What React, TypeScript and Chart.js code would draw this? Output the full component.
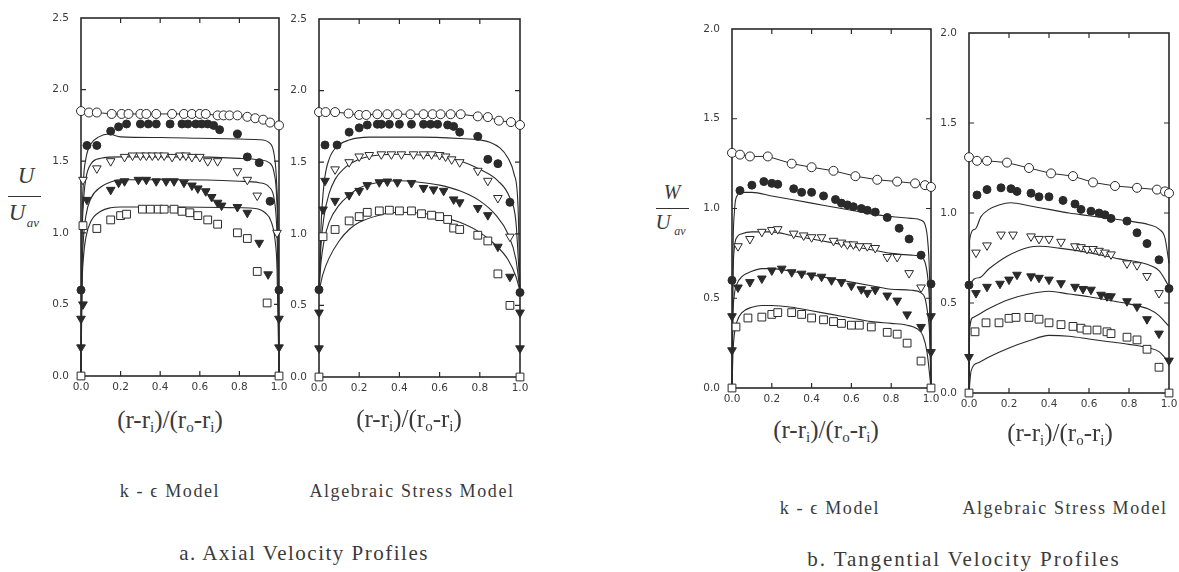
import React, { useEffect, useRef } from "react";
import { Chart, registerables } from "chart.js";

Chart.register(...registerables);

type Pt = [number, number];

// ---------- tick labels ----------
const X_TICKS = [0, 0.2, 0.4, 0.6, 0.8, 1.0];
const AXIAL_Y_TICKS = [0, 0.5, 1.0, 1.5, 2.0, 2.5];
const TANG_Y_TICKS = [0, 0.5, 1.0, 1.5, 2.0];

// ---------- a. Axial velocity, k-epsilon model ----------
const axKeOpenCircles: Pt[] = [[0, 1.85], [0.04, 1.84], [0.08, 1.84], [0.155, 1.83], [0.205, 1.83], [0.24, 1.83], [0.3, 1.83], [0.33, 1.83], [0.38, 1.83], [0.46, 1.83], [0.52, 1.83], [0.56, 1.83], [0.6, 1.83], [0.63, 1.83], [0.69, 1.82], [0.72, 1.82], [0.75, 1.82], [0.79, 1.82], [0.84, 1.81], [0.88, 1.8], [0.92, 1.79], [0.955, 1.77], [1.0, 1.75]];
const axKeFilledCircles: Pt[] = [[0, 0.6], [0.03, 1.61], [0.08, 1.61], [0.15, 1.71], [0.19, 1.74], [0.23, 1.76], [0.3, 1.76], [0.34, 1.76], [0.38, 1.76], [0.45, 1.76], [0.51, 1.76], [0.54, 1.76], [0.58, 1.76], [0.61, 1.76], [0.64, 1.76], [0.67, 1.75], [0.7, 1.72], [0.79, 1.69], [0.84, 1.53], [0.9, 1.49], [0.955, 1.22], [1.0, 0.6]];
const axKeOpenTriangles: Pt[] = [[0.01, 1.37], [0.08, 1.45], [0.15, 1.5], [0.22, 1.53], [0.26, 1.54], [0.3, 1.54], [0.33, 1.54], [0.36, 1.54], [0.39, 1.54], [0.42, 1.54], [0.46, 1.53], [0.5, 1.54], [0.53, 1.54], [0.56, 1.53], [0.6, 1.53], [0.64, 1.5], [0.69, 1.5], [0.79, 1.43], [0.84, 1.37], [0.89, 1.26], [0.99, 1.0]];
const axKeFilledTriangles: Pt[] = [[0, 0.2], [0, 0.4], [0.01, 0.5], [0.03, 1.23], [0.15, 1.3], [0.19, 1.35], [0.22, 1.36], [0.29, 1.37], [0.33, 1.37], [0.38, 1.36], [0.43, 1.36], [0.47, 1.36], [0.52, 1.35], [0.56, 1.33], [0.59, 1.31], [0.63, 1.29], [0.66, 1.25], [0.69, 1.21], [0.71, 1.19], [0.79, 1.18], [0.84, 1.14], [0.9, 0.93], [0.945, 0.71], [1.0, 0.4], [1.0, 0.2]];
const axKeOpenSquares: Pt[] = [[0, 0], [0.01, 1.05], [0.08, 1.03], [0.15, 1.09], [0.2, 1.12], [0.23, 1.13], [0.31, 1.165], [0.35, 1.165], [0.39, 1.165], [0.42, 1.165], [0.47, 1.165], [0.51, 1.15], [0.55, 1.14], [0.59, 1.12], [0.64, 1.09], [0.69, 1.06], [0.79, 1.0], [0.84, 0.96], [0.89, 0.73], [0.94, 0.51], [1.0, 0]];
const axKeLine2: Pt[] = [[0, 0], [0.005, 1.0], [0.012, 1.35], [0.025, 1.52], [0.05, 1.62], [0.09, 1.67], [0.14, 1.69], [0.2, 1.67], [0.4, 1.665], [0.6, 1.66], [0.8, 1.655], [0.9, 1.65], [0.95, 1.63], [0.975, 1.55], [0.988, 1.35], [0.995, 1.0], [1.0, 0]];
const axKeLine3: Pt[] = [[0, 0], [0.005, 0.9], [0.012, 1.2], [0.025, 1.38], [0.05, 1.48], [0.1, 1.52], [0.2, 1.53], [0.5, 1.53], [0.8, 1.52], [0.9, 1.51], [0.95, 1.49], [0.975, 1.42], [0.988, 1.25], [0.995, 0.9], [1.0, 0]];
const axKeLine4: Pt[] = [[0, 0], [0.005, 0.7], [0.012, 0.95], [0.025, 1.12], [0.05, 1.24], [0.1, 1.32], [0.15, 1.355], [0.2, 1.37], [0.5, 1.37], [0.8, 1.36], [0.9, 1.35], [0.95, 1.32], [0.975, 1.24], [0.988, 1.05], [0.995, 0.7], [1.0, 0]];
const axKeLine5: Pt[] = [[0, 0], [0.005, 0.6], [0.012, 0.82], [0.025, 0.97], [0.05, 1.08], [0.1, 1.15], [0.15, 1.175], [0.2, 1.18], [0.5, 1.18], [0.8, 1.175], [0.88, 1.17], [0.93, 1.14], [0.96, 1.08], [0.98, 0.95], [0.99, 0.75], [1.0, 0]];

// ---------- a. Axial velocity, algebraic stress model ----------
const axAsmOpenCircles: Pt[] = [[0, 1.85], [0.033, 1.85], [0.08, 1.85], [0.147, 1.84], [0.2, 1.83], [0.235, 1.83], [0.29, 1.835], [0.34, 1.835], [0.39, 1.835], [0.455, 1.835], [0.52, 1.835], [0.565, 1.835], [0.605, 1.835], [0.655, 1.835], [0.705, 1.835], [0.79, 1.82], [0.84, 1.815], [0.895, 1.79], [0.955, 1.78], [1.0, 1.76]];
const axAsmFilledCircles: Pt[] = [[0, 0.61], [0.03, 1.62], [0.09, 1.62], [0.15, 1.71], [0.2, 1.74], [0.24, 1.76], [0.29, 1.765], [0.31, 1.765], [0.35, 1.765], [0.4, 1.765], [0.46, 1.765], [0.52, 1.765], [0.555, 1.765], [0.59, 1.765], [0.64, 1.76], [0.67, 1.75], [0.7, 1.71], [0.79, 1.68], [0.84, 1.52], [0.89, 1.49], [0.95, 1.22], [1.0, 0.59]];
const axAsmOpenTriangles: Pt[] = [[0.08, 1.45], [0.15, 1.5], [0.2, 1.54], [0.25, 1.55], [0.31, 1.555], [0.36, 1.555], [0.41, 1.555], [0.47, 1.555], [0.52, 1.555], [0.56, 1.555], [0.6, 1.55], [0.63, 1.54], [0.66, 1.52], [0.7, 1.5], [0.79, 1.44], [0.84, 1.37], [0.89, 1.25], [0.95, 0.98]];
const axAsmFilledTriangles: Pt[] = [[0, 0.2], [0, 0.45], [0.02, 1.17], [0.03, 1.37], [0.08, 1.23], [0.15, 1.27], [0.2, 1.3], [0.24, 1.34], [0.3, 1.36], [0.34, 1.365], [0.39, 1.36], [0.46, 1.355], [0.52, 1.32], [0.57, 1.31], [0.62, 1.3], [0.67, 1.24], [0.7, 1.22], [0.79, 1.18], [0.84, 1.13], [0.89, 0.91], [0.95, 0.7], [1.0, 0.45], [1.0, 0.2]];
const axAsmOpenSquares: Pt[] = [[0, 0], [0.02, 0.98], [0.08, 1.03], [0.15, 1.09], [0.2, 1.12], [0.24, 1.15], [0.3, 1.16], [0.35, 1.165], [0.4, 1.16], [0.46, 1.16], [0.51, 1.14], [0.56, 1.13], [0.6, 1.12], [0.64, 1.1], [0.67, 1.04], [0.7, 1.03], [0.79, 0.99], [0.84, 0.95], [0.89, 0.72], [0.95, 0.5], [1.0, 0]];
const axAsmLine2: Pt[] = [[0, 0.6], [0.01, 1.05], [0.025, 1.35], [0.05, 1.52], [0.1, 1.62], [0.15, 1.655], [0.25, 1.675], [0.5, 1.675], [0.7, 1.665], [0.8, 1.655], [0.85, 1.64], [0.9, 1.6], [0.94, 1.53], [0.97, 1.42], [0.99, 1.2], [1.0, 0.6]];
const axAsmLine3: Pt[] = [[0, 0.6], [0.01, 0.92], [0.025, 1.12], [0.05, 1.28], [0.08, 1.38], [0.12, 1.45], [0.2, 1.52], [0.3, 1.55], [0.4, 1.555], [0.5, 1.55], [0.6, 1.54], [0.7, 1.51], [0.8, 1.45], [0.89, 1.37], [0.95, 1.25], [0.98, 1.08], [1.0, 0.6]];
const axAsmLine4: Pt[] = [[0, 0.6], [0.01, 0.8], [0.025, 0.95], [0.05, 1.08], [0.1, 1.2], [0.15, 1.27], [0.2, 1.32], [0.3, 1.36], [0.4, 1.37], [0.5, 1.36], [0.6, 1.34], [0.7, 1.3], [0.8, 1.23], [0.88, 1.13], [0.94, 1.0], [0.98, 0.82], [1.0, 0.6]];
const axAsmLine5: Pt[] = [[0, 0.6], [0.02, 0.72], [0.05, 0.83], [0.1, 0.95], [0.15, 1.03], [0.2, 1.08], [0.3, 1.13], [0.4, 1.15], [0.5, 1.145], [0.6, 1.12], [0.7, 1.08], [0.8, 1.01], [0.88, 0.92], [0.94, 0.82], [0.98, 0.7], [1.0, 0.6]];

// ---------- b. Tangential velocity, k-epsilon model ----------
const tgKeOpenCircles: Pt[] = [[0, 1.31], [0.04, 1.3], [0.09, 1.29], [0.18, 1.29], [0.3, 1.25], [0.4, 1.23], [0.51, 1.21], [0.62, 1.18], [0.73, 1.16], [0.83, 1.15], [0.92, 1.14], [0.97, 1.13], [1.0, 1.12]];
const tgKeFilledCircles: Pt[] = [[0, 0.6], [0.04, 1.1], [0.1, 1.13], [0.16, 1.15], [0.2, 1.14], [0.23, 1.135], [0.31, 1.11], [0.35, 1.09], [0.4, 1.09], [0.46, 1.07], [0.52, 1.05], [0.55, 1.03], [0.58, 1.02], [0.61, 1.01], [0.65, 1.0], [0.68, 0.99], [0.72, 0.98], [0.78, 0.95], [0.84, 0.89], [0.89, 0.83], [0.95, 0.74], [1.0, 0.58]];
const tgKeOpenTriangles: Pt[] = [[0.03, 0.79], [0.09, 0.83], [0.15, 0.87], [0.2, 0.88], [0.23, 0.885], [0.31, 0.86], [0.36, 0.85], [0.4, 0.84], [0.45, 0.84], [0.51, 0.82], [0.55, 0.81], [0.58, 0.8], [0.61, 0.8], [0.64, 0.79], [0.68, 0.79], [0.72, 0.78], [0.78, 0.73], [0.83, 0.73], [0.89, 0.64], [0.95, 0.56]];
const tgKeFilledTriangles: Pt[] = [[0, 0.21], [0, 0.4], [0.03, 0.56], [0.09, 0.59], [0.15, 0.61], [0.2, 0.655], [0.25, 0.665], [0.3, 0.645], [0.35, 0.637], [0.4, 0.627], [0.45, 0.62], [0.5, 0.6], [0.55, 0.59], [0.6, 0.57], [0.65, 0.55], [0.68, 0.53], [0.72, 0.547], [0.78, 0.515], [0.83, 0.487], [0.88, 0.41], [0.95, 0.34], [1.0, 0.4], [1.0, 0.2]];
const tgKeOpenSquares: Pt[] = [[0, 0], [0.02, 0.34], [0.08, 0.39], [0.15, 0.395], [0.2, 0.41], [0.23, 0.42], [0.3, 0.42], [0.35, 0.41], [0.4, 0.39], [0.46, 0.38], [0.51, 0.37], [0.55, 0.36], [0.6, 0.35], [0.64, 0.35], [0.7, 0.34], [0.78, 0.31], [0.83, 0.3], [0.88, 0.25], [0.95, 0.15], [1.0, 0]];
const tgKeLine2: Pt[] = [[0, 0], [0.005, 0.75], [0.012, 0.98], [0.025, 1.07], [0.05, 1.09], [0.1, 1.09], [0.2, 1.07], [0.3, 1.05], [0.4, 1.03], [0.5, 1.01], [0.6, 0.99], [0.7, 0.97], [0.8, 0.955], [0.9, 0.945], [0.95, 0.935], [0.97, 0.91], [0.985, 0.8], [0.993, 0.6], [1.0, 0]];
const tgKeLine3: Pt[] = [[0, 0], [0.005, 0.6], [0.012, 0.78], [0.025, 0.84], [0.05, 0.86], [0.1, 0.87], [0.2, 0.87], [0.3, 0.85], [0.4, 0.83], [0.5, 0.81], [0.6, 0.79], [0.7, 0.77], [0.8, 0.75], [0.9, 0.74], [0.95, 0.73], [0.97, 0.7], [0.985, 0.6], [0.993, 0.45], [1.0, 0]];
const tgKeLine4: Pt[] = [[0, 0], [0.005, 0.4], [0.012, 0.52], [0.025, 0.58], [0.05, 0.62], [0.1, 0.65], [0.15, 0.665], [0.2, 0.665], [0.3, 0.65], [0.4, 0.63], [0.5, 0.61], [0.6, 0.59], [0.7, 0.57], [0.8, 0.55], [0.9, 0.545], [0.95, 0.53], [0.97, 0.5], [0.985, 0.4], [0.993, 0.3], [1.0, 0]];
const tgKeLine5: Pt[] = [[0, 0], [0.005, 0.2], [0.012, 0.3], [0.025, 0.37], [0.05, 0.42], [0.1, 0.45], [0.15, 0.46], [0.2, 0.46], [0.3, 0.45], [0.4, 0.43], [0.5, 0.41], [0.6, 0.39], [0.7, 0.37], [0.8, 0.36], [0.88, 0.35], [0.93, 0.33], [0.96, 0.29], [0.98, 0.2], [1.0, 0]];

// ---------- b. Tangential velocity, algebraic stress model ----------
const tgAsmOpenCircles: Pt[] = [[0, 1.31], [0.04, 1.29], [0.09, 1.29], [0.19, 1.28], [0.3, 1.25], [0.41, 1.22], [0.52, 1.205], [0.62, 1.17], [0.73, 1.15], [0.84, 1.14], [0.94, 1.13], [0.98, 1.12], [1.0, 1.11]];
const tgAsmFilledCircles: Pt[] = [[0, 0.6], [0.04, 1.1], [0.09, 1.13], [0.16, 1.14], [0.21, 1.135], [0.24, 1.12], [0.31, 1.11], [0.35, 1.09], [0.4, 1.09], [0.47, 1.07], [0.53, 1.05], [0.56, 1.02], [0.61, 1.01], [0.65, 1.0], [0.68, 0.99], [0.71, 0.97], [0.79, 0.955], [0.84, 0.89], [0.89, 0.83], [0.95, 0.74], [1.0, 0.58]];
const tgAsmOpenTriangles: Pt[] = [[0.035, 0.78], [0.09, 0.82], [0.16, 0.88], [0.22, 0.88], [0.31, 0.87], [0.35, 0.856], [0.4, 0.856], [0.46, 0.84], [0.53, 0.815], [0.56, 0.81], [0.59, 0.8], [0.62, 0.8], [0.65, 0.79], [0.68, 0.78], [0.71, 0.77], [0.79, 0.72], [0.84, 0.71], [0.89, 0.65], [0.95, 0.555]];
const tgAsmFilledTriangles: Pt[] = [[0, 0.2], [0.035, 0.555], [0.09, 0.59], [0.155, 0.607], [0.2, 0.63], [0.24, 0.657], [0.31, 0.648], [0.35, 0.64], [0.4, 0.63], [0.46, 0.61], [0.53, 0.59], [0.57, 0.578], [0.61, 0.574], [0.66, 0.546], [0.69, 0.537], [0.71, 0.537], [0.79, 0.51], [0.84, 0.48], [0.89, 0.41], [0.95, 0.33], [1.0, 0.18]];
const tgAsmOpenSquares: Pt[] = [[0, 0], [0.03, 0.34], [0.085, 0.39], [0.15, 0.39], [0.2, 0.415], [0.235, 0.42], [0.3, 0.42], [0.35, 0.41], [0.4, 0.39], [0.46, 0.38], [0.52, 0.37], [0.56, 0.36], [0.59, 0.35], [0.64, 0.35], [0.69, 0.34], [0.71, 0.33], [0.79, 0.31], [0.84, 0.295], [0.89, 0.243], [0.95, 0.143], [1.0, 0]];
const tgAsmLine2: Pt[] = [[0, 0], [0.003, 0.85], [0.03, 0.91], [0.06, 0.98], [0.1, 1.02], [0.15, 1.045], [0.21, 1.057], [0.3, 1.04], [0.4, 1.02], [0.5, 1.0], [0.6, 0.985], [0.7, 0.97], [0.8, 0.955], [0.9, 0.935], [0.95, 0.91], [0.98, 0.86], [1.0, 0.72]];
const tgAsmLine3: Pt[] = [[0, 0], [0.003, 0.59], [0.05, 0.64], [0.1, 0.69], [0.19, 0.76], [0.3, 0.81], [0.35, 0.815], [0.45, 0.805], [0.6, 0.78], [0.75, 0.745], [0.89, 0.715], [0.95, 0.68], [0.98, 0.63], [1.0, 0.59]];
const tgAsmLine4: Pt[] = [[0, 0], [0.003, 0.35], [0.02, 0.42], [0.1, 0.47], [0.2, 0.52], [0.3, 0.55], [0.4, 0.565], [0.5, 0.55], [0.6, 0.535], [0.7, 0.515], [0.8, 0.495], [0.9, 0.465], [0.95, 0.43], [1.0, 0.37]];
const tgAsmLine5: Pt[] = [[0, 0], [0.01, 0.12], [0.05, 0.17], [0.1, 0.2], [0.2, 0.25], [0.3, 0.29], [0.4, 0.32], [0.5, 0.315], [0.6, 0.3], [0.7, 0.285], [0.8, 0.27], [0.9, 0.25], [0.95, 0.23], [1.0, 0.17]];

// ---------- styling / layout (kept apart from data) ----------
const INK = "#2a2a2a";
const TEXT = "#3a3a3a";
const PAD = { left: 0, right: 10, top: 10, bottom: 4 };
const Y_AXIS_W = 40;
const X_AXIS_H = 22;

interface PanelSpec {
  key: string;
  area: { left: number; top: number; right: number; bottom: number };
  yMax: number;
  yTicks: number[];
  circles: Pt[];
  filled: Pt[];
  openTri: Pt[];
  filledTri: Pt[];
  squares: Pt[];
  lines: Pt[][];
}

const PANELS: PanelSpec[] = [
  { key: "axKe", area: { left: 81, top: 18, right: 279, bottom: 376 }, yMax: 2.5, yTicks: AXIAL_Y_TICKS,
    circles: axKeOpenCircles, filled: axKeFilledCircles, openTri: axKeOpenTriangles, filledTri: axKeFilledTriangles, squares: axKeOpenSquares,
    lines: [axKeLine2, axKeLine3, axKeLine4, axKeLine5] },
  { key: "axAsm", area: { left: 319, top: 19, right: 520, bottom: 377 }, yMax: 2.5, yTicks: AXIAL_Y_TICKS,
    circles: axAsmOpenCircles, filled: axAsmFilledCircles, openTri: axAsmOpenTriangles, filledTri: axAsmFilledTriangles, squares: axAsmOpenSquares,
    lines: [axAsmLine2, axAsmLine3, axAsmLine4, axAsmLine5] },
  { key: "tgKe", area: { left: 732, top: 29, right: 931, bottom: 388 }, yMax: 2.0, yTicks: TANG_Y_TICKS,
    circles: tgKeOpenCircles, filled: tgKeFilledCircles, openTri: tgKeOpenTriangles, filledTri: tgKeFilledTriangles, squares: tgKeOpenSquares,
    lines: [tgKeLine2, tgKeLine3, tgKeLine4, tgKeLine5] },
  { key: "tgAsm", area: { left: 969, top: 33, right: 1169, bottom: 393 }, yMax: 2.0, yTicks: TANG_Y_TICKS,
    circles: tgAsmOpenCircles, filled: tgAsmFilledCircles, openTri: tgAsmOpenTriangles, filledTri: tgAsmFilledTriangles, squares: tgAsmOpenSquares,
    lines: [tgAsmLine2, tgAsmLine3, tgAsmLine4, tgAsmLine5] },
];

const toXY = (pts: Pt[]) => pts.map(([x, y]) => ({ x, y }));

const framePlugin = {
  id: "frame",
  beforeDatasetsDraw(chart: any) {
    const { ctx, chartArea: a, scales } = chart;
    ctx.save();
    ctx.strokeStyle = INK;
    ctx.lineWidth = 1.6;
    ctx.strokeRect(a.left, a.top, a.right - a.left, a.bottom - a.top);
    ctx.lineWidth = 1.2;
    const L = 5;
    ctx.beginPath();
    for (const t of scales.x.ticks) {
      const px = scales.x.getPixelForValue(t.value);
      if (px - a.left < 2 || a.right - px < 2) continue;
      ctx.moveTo(px, a.bottom);
      ctx.lineTo(px, a.bottom - L);
      ctx.moveTo(px, a.top);
      ctx.lineTo(px, a.top + L);
    }
    for (const t of scales.y.ticks) {
      const py = scales.y.getPixelForValue(t.value);
      if (py - a.top < 2 || a.bottom - py < 2) continue;
      ctx.moveTo(a.left, py);
      ctx.lineTo(a.left + L, py);
      ctx.moveTo(a.right, py);
      ctx.lineTo(a.right - L, py);
    }
    ctx.stroke();
    ctx.restore();
  },
};

function marker(pts: Pt[], style: string, filled: boolean, radius: number, rotation = 0, showLine = false) {
  return {
    data: toXY(pts),
    pointStyle: style,
    rotation,
    pointRadius: radius,
    pointBackgroundColor: filled ? INK : "#ffffff",
    pointBorderColor: INK,
    pointBorderWidth: 1,
    showLine,
    borderColor: INK,
    borderWidth: 1,
    clip: false,
    order: 0,
  };
}

function modelLine(pts: Pt[]) {
  return {
    data: toXY(pts),
    showLine: true,
    pointRadius: 0,
    borderColor: INK,
    borderWidth: 1.1,
    cubicInterpolationMode: "monotone",
    fill: false,
    clip: false,
    order: 1,
  };
}

const tickFont = { family: "'DejaVu Sans', sans-serif", size: 10.5 };

function buildConfig(p: PanelSpec): any {
  return {
    type: "scatter",
    data: {
      datasets: [
        marker(p.circles, "circle", false, 4.5, 0, true),
        marker(p.filled, "circle", true, 4),
        marker(p.openTri, "triangle", false, 5, 180),
        marker(p.filledTri, "triangle", true, 5, 180),
        marker(p.squares, "rect", false, 5.5),
        ...p.lines.map(modelLine),
      ],
    },
    options: {
      responsive: false,
      animation: false,
      devicePixelRatio: 1,
      events: [],
      layout: { padding: PAD },
      plugins: { legend: { display: false }, tooltip: { enabled: false }, title: { display: false } },
      scales: {
        x: {
          type: "linear",
          min: 0,
          max: 1,
          grid: { display: false, drawTicks: false },
          border: { display: false },
          afterBuildTicks: (s: any) => { s.ticks = X_TICKS.map((v) => ({ value: v })); },
          ticks: { font: tickFont, color: TEXT, padding: 5, maxRotation: 0, autoSkip: false, callback: (v: any) => Number(v).toFixed(1) },
          afterFit: (s: any) => { s.height = X_AXIS_H; s.paddingLeft = 0; s.paddingRight = 0; },
        },
        y: {
          type: "linear",
          min: 0,
          max: p.yMax,
          grid: { display: false, drawTicks: false },
          border: { display: false },
          afterBuildTicks: (s: any) => { s.ticks = p.yTicks.map((v) => ({ value: v })); },
          ticks: { font: tickFont, color: TEXT, padding: 12, autoSkip: false, callback: (v: any) => Number(v).toFixed(1) },
          afterFit: (s: any) => { s.width = Y_AXIS_W; s.paddingTop = 0; s.paddingBottom = 0; },
        },
      },
    },
    plugins: [framePlugin],
  };
}

function Panel({ spec }: { spec: PanelSpec }) {
  const ref = useRef<HTMLCanvasElement>(null);
  const left = spec.area.left - Y_AXIS_W - PAD.left;
  const top = spec.area.top - PAD.top;
  const width = spec.area.right + PAD.right - left;
  const height = spec.area.bottom + X_AXIS_H + PAD.bottom - top;
  useEffect(() => {
    if (!ref.current) return;
    const chart = new Chart(ref.current, buildConfig(spec));
    return () => chart.destroy();
  }, [spec]);
  return (
    <canvas
      ref={ref}
      width={width}
      height={height}
      style={{ position: "absolute", left, top, width, height }}
    />
  );
}

const SERIF = "'Liberation Serif', 'DejaVu Serif', serif";

function Label(props: { x: number; y: number; size: number; italic?: boolean; spacing?: number; children: React.ReactNode }) {
  return (
    <div
      style={{
        position: "absolute",
        left: props.x,
        top: props.y,
        transform: "translate(-50%, -50%)",
        fontFamily: SERIF,
        fontSize: props.size,
        fontStyle: props.italic ? "italic" : "normal",
        letterSpacing: props.spacing ?? 0,
        color: TEXT,
        whiteSpace: "nowrap",
        lineHeight: 1,
      }}
    >
      {props.children}
    </div>
  );
}

const subStyle: React.CSSProperties = { fontSize: 15, verticalAlign: "-0.3em", lineHeight: 0 };

function RadialTitle({ x, y }: { x: number; y: number }) {
  return (
    <Label x={x} y={y} size={25}>
      (r-r<span style={subStyle}>i</span>)/(r<span style={subStyle}>o</span>-r<span style={subStyle}>i</span>)
    </Label>
  );
}

function Bar({ x, y, w }: { x: number; y: number; w: number }) {
  return <div style={{ position: "absolute", left: x, top: y, width: w, height: 1.3, background: "#333" }} />;
}

export default function App() {
  return (
    <div style={{ position: "fixed", left: 0, top: 0, width: 1179, height: 572, background: "#ffffff", overflow: "hidden" }}>
      {PANELS.map((p) => (
        <Panel key={p.key} spec={p} />
      ))}

      {/* a. y-axis title U / U_av */}
      <Label x={26} y={175} size={23} italic>U</Label>
      <Bar x={8} y={196} w={33} />
      <Label x={17} y={212} size={23} italic>U</Label>
      <Label x={33} y={222} size={13} italic>av</Label>

      {/* b. y-axis title W / U_av */}
      <Label x={672} y={192} size={20} italic>W</Label>
      <Bar x={656} y={208} w={33} />
      <Label x={663} y={222} size={21} italic>U</Label>
      <Label x={680} y={231} size={12} italic>av</Label>

      <RadialTitle x={170} y={419} />
      <RadialTitle x={409} y={418} />
      <RadialTitle x={826} y={429} />
      <RadialTitle x={1060} y={432} />

      <Label x={170} y={491} size={18} spacing={1.6}>k - ϵ Model</Label>
      <Label x={412} y={491} size={18} spacing={1.6}>Algebraic Stress Model</Label>
      <Label x={830} y={508} size={18} spacing={1.6}>k - ϵ Model</Label>
      <Label x={1065} y={508} size={18} spacing={1.6}>Algebraic Stress Model</Label>

      <Label x={304} y={553} size={21} spacing={1.5}>a. Axial Velocity Profiles</Label>
      <Label x={964} y={559} size={21} spacing={1.9}>b. Tangential Velocity Profiles</Label>
    </div>
  );
}
